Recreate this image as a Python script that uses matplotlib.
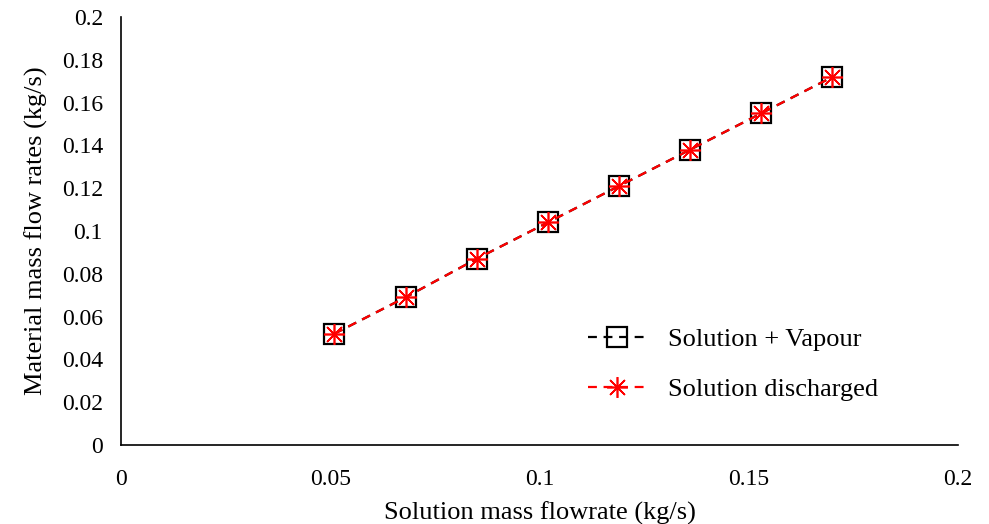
import matplotlib.pyplot as plt

# values
flow_in = [0.051, 0.068, 0.085, 0.102, 0.119, 0.136, 0.153, 0.170]
sol_vapour = [0.052, 0.069, 0.087, 0.104, 0.121, 0.138, 0.155, 0.172]
sol_discharged = [0.052, 0.069, 0.087, 0.104, 0.121, 0.138, 0.155, 0.172]

x_ticks = [0, 0.05, 0.1, 0.15, 0.2]
y_ticks = [0, 0.02, 0.04, 0.06, 0.08, 0.1, 0.12, 0.14, 0.16, 0.18, 0.2]


def main():
    plt.rcParams['font.family'] = ['Liberation Serif', 'DejaVu Serif']
    fig = plt.figure(figsize=(9.89, 5.24), dpi=100)
    ax = fig.add_axes([0.1223, 0.1508, 0.8464, 0.8168])

    ax.plot(flow_in, sol_vapour, linestyle=(0, (4, 3)), color='black', lw=1.6,
            marker='s', markersize=14, markerfacecolor='none',
            markeredgecolor='black', markeredgewidth=1.6, label='Solution + Vapour')
    ax.plot(flow_in, sol_discharged, linestyle=(0, (4, 3)), color='red', lw=1.6,
            marker=(8, 2, 0), markersize=15, markeredgecolor='red',
            markeredgewidth=1.2, label='Solution discharged')

    ax.set_xlim(0, 0.2)
    ax.set_ylim(0, 0.2)
    ax.set_xticks(x_ticks)
    ax.set_xticklabels(['0', '0.05', '0.1', '0.15', '0.2'])
    ax.set_yticks(y_ticks)
    ax.set_yticklabels(['0', '0.02', '0.04', '0.06', '0.08', '0.1', '0.12',
                        '0.14', '0.16', '0.18', '0.2'])
    ax.tick_params(length=0, labelsize=17, pad=17)
    ax.tick_params(axis='y', pad=13)
    for side in ['top', 'right']:
        ax.spines[side].set_visible(False)
    for side in ['left', 'bottom']:
        ax.spines[side].set_linewidth(1.2)

    ax.set_xlabel('Solution mass flowrate (kg/s)', fontsize=19, labelpad=9)
    ax.set_ylabel('Material mass flow rates (kg/s)', fontsize=19, labelpad=10)

    ax.legend(loc='upper left', bbox_to_anchor=(0.53, 0.33), frameon=False,
              fontsize=19, handlelength=2.2, labelspacing=1.0)

    fig.savefig('out.png', dpi=100)


if __name__ == '__main__':
    main()
